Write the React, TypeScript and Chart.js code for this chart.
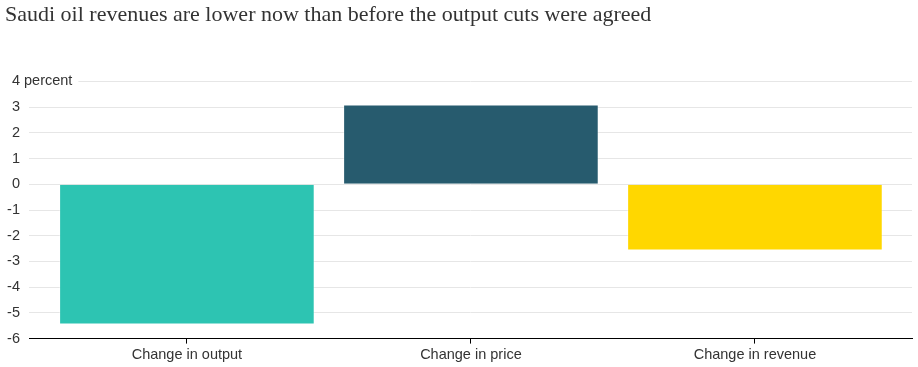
import React, { useEffect, useRef } from "react";
import { Chart, registerables } from "chart.js";

Chart.register(...registerables);

const titleText = "Saudi oil revenues are lower now than before the output cuts were agreed";
const categories = ["Change in output", "Change in price", "Change in revenue"];
const values = [-5.45, 3.1, -2.57];
const colors = ["#2dc4b2", "#275b6e", "#ffd700"];
const yTicks = [-6, -5, -4, -3, -2, -1, 0, 1, 2, 3, 4];
const unitLabel = "percent";

const FONT = "'Liberation Sans', Arial, sans-serif";
const TEXT_COLOR = "#333333";
const LABEL_SIZE = 14.5;

const unitPlugin = {
  id: "unitPlugin",
  afterDraw(chart: any) {
    const ys = chart.scales.y;
    const ctx = chart.ctx;
    const py = ys.getPixelForValue(yTicks[yTicks.length - 1]);
    const right = chart.chartArea.left - 9;
    ctx.save();
    ctx.font = `${LABEL_SIZE}px ${FONT}`;
    const sp = ctx.measureText(" ").width;
    const w = ctx.measureText(unitLabel).width;
    ctx.fillStyle = "#ffffff";
    ctx.fillRect(right, py - 3, sp + w + 6, 6);
    ctx.fillStyle = TEXT_COLOR;
    ctx.textAlign = "left";
    ctx.textBaseline = "middle";
    ctx.fillText(unitLabel, right + sp, py);
    ctx.restore();
  },
};

export default function App() {
  const ref = useRef<HTMLCanvasElement | null>(null);
  useEffect(() => {
    if (!ref.current) return;
    const chart = new Chart(ref.current, {
      type: "bar",
      data: {
        datasets: [
          {
            data: values.map((v, i) => ({ x: i, y: v })),
            backgroundColor: colors,
            borderColor: "rgba(255,255,255,0.35)",
            borderWidth: 1,
            barPercentage: 0.9,
            categoryPercentage: 1,
          },
        ],
      },
      options: {
        animation: false,
        responsive: false,
        maintainAspectRatio: false,
        layout: { padding: { top: 0, right: 6, bottom: 0, left: 5 } },
        plugins: {
          legend: { display: false },
          tooltip: { enabled: false },
          title: {
            display: true,
            text: titleText,
            align: "start",
            color: TEXT_COLOR,
            font: { family: "'Liberation Serif', 'Times New Roman', serif", size: 22, weight: "normal" },
            padding: { top: 2, bottom: 53 },
          },
        },
        scales: {
          x: {
            type: "linear",
            offset: false,
            min: -0.556,
            max: 2.553,
            afterBuildTicks: (scale: any) => {
              scale.ticks = categories.map((_, i) => ({ value: i }));
            },
            ticks: {
              callback: (v: any) => categories[v] ?? "",
              color: TEXT_COLOR,
              font: { family: FONT, size: LABEL_SIZE },
              padding: 3,
              maxRotation: 0,
              autoSkip: false,
            },
            grid: { offset: false, drawOnChartArea: false, drawTicks: true, tickLength: 5, color: "#000000" },
            border: { display: true, color: "#000000", width: 1 },
          },
          y: {
            min: -6,
            max: 4,
            afterBuildTicks: (scale: any) => {
              scale.ticks = yTicks.map((v) => ({ value: v }));
            },
            afterFit: (scale: any) => {
              scale.width = 24;
            },
            ticks: {
              color: TEXT_COLOR,
              font: { family: FONT, size: LABEL_SIZE },
              padding: 9,
            },
            grid: { color: "#e6e6e6", drawTicks: false },
            border: { display: false },
          },
        },
      },
      plugins: [unitPlugin],
    });
    return () => chart.destroy();
  }, []);
  return (
    <div style={{ position: "fixed", left: 0, top: 0, width: 918, height: 367, background: "#fff" }}>
      <canvas ref={ref} width={918} height={367} style={{ display: "block" }} />
    </div>
  );
}
